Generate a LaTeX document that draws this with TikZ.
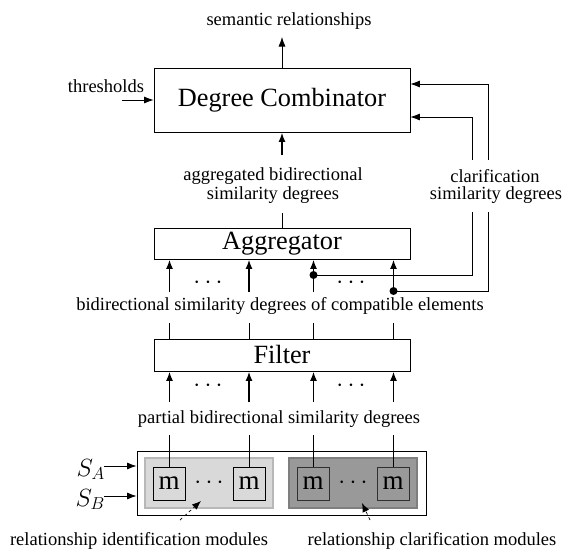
\documentclass[tikz,border=0pt]{standalone}
\usepackage{fontspec}
\setmainfont{Liberation Serif}
\usetikzlibrary{arrows.meta}
\definecolor{lightfill}{HTML}{D9D9D9}
\definecolor{lightedge}{HTML}{B8B8B8}
\definecolor{darkfill}{HTML}{999999}
\definecolor{darkedge}{HTML}{7F7F7F}
\definecolor{medge}{HTML}{303030}
\begin{document}
\begin{tikzpicture}[x=1pt,y=-1pt,
  lbl/.style={font=\fontsize{18.5}{19}\selectfont, inner sep=0pt, anchor=base},
  big/.style={font=\fontsize{26.3}{30}\selectfont},
  blk/.style={draw, line width=0.8pt, minimum width=256pt, inner sep=0pt, big},
  thin/.style={line width=0.8pt},
  thk/.style={line width=1.8pt},
  arr/.style={-{Latex[length=9.5pt,width=7pt]}},
  dasharr/.style={line width=0.7pt, dash pattern=on 3pt off 3pt, -{Latex[length=9pt,width=7pt]}},
  mbox/.style={draw, line width=0.8pt, minimum width=32pt, minimum height=33pt, inner sep=0pt, font=\fontsize{27}{30}\selectfont},
  grp/.style={line width=1.5pt, minimum width=128pt, minimum height=50pt, inner sep=0pt},
  dotsnode/.style={inner sep=0pt, anchor=base, font=\fontsize{26.3}{30}\selectfont}
]
\useasboundingbox (0,0) rectangle (563,552);

% main blocks
\node[blk, minimum height=64pt] (dc) at (282,100) {Degree Combinator};
\node[blk, minimum height=31pt] (agg) at (282,243.5) {Aggregator};
\node[blk, minimum height=32pt] (filt) at (282,355) {Filter};

% labels
\node[lbl] (sem) at (289,25) {semantic relationships};
\node[lbl] (thr) at (106,92) {thresholds};
\node[lbl] (aggl1) at (273,180) {aggregated bidirectional};
\node[lbl] (aggl2) at (273,199) {similarity degrees};
\node[lbl] (cl1) at (495,182) {clarification};
\node[lbl] (cl2) at (496,199) {similarity degrees};
\node[lbl] (bid) at (280,310) {bidirectional similarity degrees of compatible elements};
\node[lbl] (part) at (279,423) {partial bidirectional similarity degrees};
\node[lbl] (rim) at (139,545) {relationship identification modules};
\node[lbl] (rcm) at (432,545) {relationship clarification modules};

% module area
\node[draw, line width=0.9pt, minimum width=289pt, minimum height=64pt, inner sep=0pt] (outer) at (281.5,483) {};
\node[grp, draw=lightedge, fill=lightfill] (light) at (209,483) {};
\node[grp, draw=darkedge, fill=darkfill] (dark) at (353,483) {};
\node[mbox, fill=lightfill] (m1) at (169,483.5) {m};
\node[mbox, fill=lightfill] (m2) at (249,483.5) {m};
\node[mbox, draw=medge, fill=darkfill] (m3) at (313,483.5) {m};
\node[mbox, draw=medge, fill=darkfill] (m4) at (393,483.5) {m};
\node[dotsnode] (dm1) at (209,488.5) {$\cdots$};
\node[dotsnode] (dm2) at (353,488.5) {$\cdots$};

% S inputs
\node[inner sep=0pt, anchor=base east, font=\fontsize{25}{30}\selectfont] (sa) at (105,476) {$S_A$};
\node[inner sep=0pt, anchor=base east, font=\fontsize{25}{30}\selectfont] (sb) at (105,506) {$S_B$};
\coordinate (sae) at (104,466);
\coordinate (sbe) at (104,496);
\draw[thin, arr] (sae) -- (sae -| outer.west);
\draw[thin, arr] (sbe) -- (sbe -| outer.west);

% dots rows
\node[dotsnode] (da1) at (208,288.5) {$\cdots$};
\node[dotsnode] (da2) at (351,288.5) {$\cdots$};
\node[dotsnode] (df1) at (208,391.5) {$\cdots$};
\node[dotsnode] (df2) at (351,391.5) {$\cdots$};

% top connections
\coordinate (semb) at (282,37);
\draw[thin, arr] (dc.north) -- (semb);
\coordinate (thre) at (122,100);
\draw[thin, arr] (thre) -- (dc.west);
\coordinate (aggt) at (282,155);
\draw[thk, arr] (aggt) -- (dc.south);
\coordinate (aggb) at (282,213);
\draw[thin] (aggb) -- (agg.north);

% clarification feedback
\coordinate (ci1) at (472,160);
\coordinate (ci2) at (472,212);
\coordinate (co1) at (488,160);
\coordinate (co2) at (488,212);
\coordinate (d1) at (313.5,275);
\coordinate (d2) at (393.5,291);
\draw[thin, arr] (ci1) |- ([yshift=-17pt]dc.east);
\draw[thin, arr] (co1) |- ([yshift=16pt]dc.east);
\draw[thin] (ci2) |- (d1);
\draw[thin] (co2) |- (d2);

% columns
\foreach \i/\x in {1/169.5,2/249,3/313.5} {
  \coordinate (a\i) at (\x,292);
}
\coordinate (a4) at (d2);
\foreach \i/\x in {1/169.5,2/249,3/313.5,4/393.5} {
  \coordinate (b\i) at (\x,323);
  \coordinate (f\i) at (\x,402);
  \coordinate (p\i) at (\x,435);
}
\foreach \i in {1,...,4} {
  \draw[thk, arr] (a\i) -- (a\i |- agg.south);
  \draw[thin] (b\i) -- (b\i |- filt.north);
  \draw[thk, arr] (f\i) -- (f\i |- filt.south);
  \draw[thin] (p\i) -- (p\i |- m\i.north);
}
\fill (d1) circle (4pt);
\fill (d2) circle (4pt);

% dashed pointers
\coordinate (dl1) at (180,520);
\coordinate (dl2) at (201,501);
\coordinate (dr1) at (370,520);
\coordinate (dr2) at (362,503);
\draw[dasharr] (dl1) -- (dl2);
\draw[dasharr] (dr1) -- (dr2);
\end{tikzpicture}
\end{document}
